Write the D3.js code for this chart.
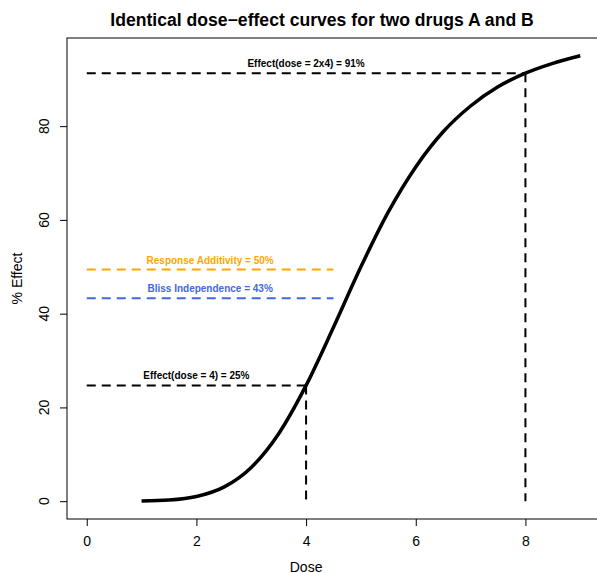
<!DOCTYPE html>
<html>
<head>
<meta charset="utf-8">
<script src="https://cdn.jsdelivr.net/npm/d3@7"></script>
<style>
  body { margin: 0; background: #fff; }
  text { font-family: "Liberation Sans", Arial, Helvetica, sans-serif; }
</style>
</head>
<body>
<div id="chart"></div>
<script>
// dose-effect curve
var doses   = [1, 1.5, 2, 2.5, 3, 3.5, 4, 4.5, 5, 5.5, 6, 6.5, 7, 7.5, 8, 8.5, 9];
var effects = [0.03, 0.24, 1.0, 3.0, 7.2, 14.4, 24.7, 37.1, 50.0, 61.7, 71.3, 78.8, 84.3, 88.4, 91.3, 93.4, 95.0];

// reference lines: [dose, effect]
var singleDose = [4, 24.7];
var doubleDose = [8, 91.3];
var additivity = 49.4;
var bliss = 43.3;
var combEnd = 4.5;

var xTicks = [0, 2, 4, 6, 8];
var yTicks = [0, 20, 40, 60, 80];

var width = 597, height = 573;
var margin = { top: 38, left: 67 };
var plotW = 533, plotH = 481;

var svg = d3.select("#chart").append("svg")
  .attr("width", width)
  .attr("height", height);

var x = d3.scaleLinear().domain([-0.36, 9.36]).range([margin.left, margin.left + plotW]);
var y = d3.scaleLinear().domain([-3.8, 98.8]).range([margin.top + plotH, margin.top]);

var dash = "9,6";

// axes (R style: no domain line, box drawn separately)
var xAxis = svg.append("g")
  .attr("transform", "translate(0," + (margin.top + plotH) + ")")
  .call(d3.axisBottom(x).tickValues(xTicks).tickSize(7).tickPadding(10));
var yAxis = svg.append("g")
  .attr("transform", "translate(" + margin.left + ",0)")
  .call(d3.axisLeft(y).tickValues(yTicks).tickSize(7).tickFormat(""));

[xAxis, yAxis].forEach(function(g) {
  g.select(".domain").remove();
  g.selectAll("line").attr("stroke", "#000");
});
xAxis.selectAll("text").attr("font-size", 14).attr("fill", "#000")
  .style("font-family", "'Liberation Sans', Arial, sans-serif");

// rotated y tick labels
svg.selectAll(".ylab")
  .data(yTicks)
  .enter()
  .append("text")
  .attr("class", "ylab")
  .attr("transform", function(d) { return "translate(49," + y(d) + ") rotate(-90)"; })
  .attr("text-anchor", "middle")
  .attr("font-size", 14)
  .text(function(d) { return d; });

// box
svg.append("rect")
  .attr("x", margin.left).attr("y", margin.top)
  .attr("width", plotW).attr("height", plotH)
  .attr("fill", "none").attr("stroke", "#000").attr("stroke-width", 1);

// titles
svg.append("text")
  .attr("x", 322).attr("y", 26)
  .attr("text-anchor", "middle")
  .attr("font-size", 17.6).attr("font-weight", "bold")
  .text("Identical dose\u2212effect curves for two drugs A and B");

svg.append("text")
  .attr("x", x(4)).attr("y", 572)
  .attr("text-anchor", "middle")
  .attr("font-size", 14)
  .text("Dose");

svg.append("text")
  .attr("transform", "translate(22," + y(47.5) + ") rotate(-90)")
  .attr("text-anchor", "middle")
  .attr("font-size", 14)
  .text("% Effect");

// dashed reference lines
function hline(x0, x1, v, color) {
  svg.append("line")
    .attr("x1", x(x0)).attr("x2", x(x1))
    .attr("y1", y(v)).attr("y2", y(v))
    .attr("stroke", color).attr("stroke-width", 2)
    .attr("stroke-dasharray", dash);
}
function vline(d, v) {
  svg.append("line")
    .attr("x1", x(d)).attr("x2", x(d))
    .attr("y1", y(v)).attr("y2", y(0))
    .attr("stroke", "#000").attr("stroke-width", 2)
    .attr("stroke-dasharray", dash);
}
hline(0, doubleDose[0], doubleDose[1], "#000");
vline(doubleDose[0], doubleDose[1]);
hline(0, singleDose[0], singleDose[1], "#000");
vline(singleDose[0], singleDose[1]);
hline(0, combEnd, additivity, "#FFA500");
hline(0, combEnd, bliss, "#4169E1");

// labels
function label(d, v, txt, color) {
  svg.append("text")
    .attr("x", x(d)).attr("y", y(v) - 6)
    .attr("text-anchor", "middle")
    .attr("font-size", 10).attr("font-weight", "bold")
    .attr("fill", color)
    .text(txt);
}
label(4, doubleDose[1], "Effect(dose = 2x4) = 91%", "#000");
label(2, singleDose[1], "Effect(dose = 4) = 25%", "#000");
label(2.25, additivity, "Response Additivity = 50%", "#FFA500");
label(2.25, bliss, "Bliss Independence = 43%", "#4169E1");

// curve
var pts = doses.map(function(d, i) { return [d, effects[i]]; });
svg.append("path")
  .datum(pts)
  .attr("fill", "none")
  .attr("stroke", "#000")
  .attr("stroke-width", 3.5)
  .attr("d", d3.line()
    .x(function(p) { return x(p[0]); })
    .y(function(p) { return y(p[1]); })
    .curve(d3.curveMonotoneX));
</script>
</body>
</html>
